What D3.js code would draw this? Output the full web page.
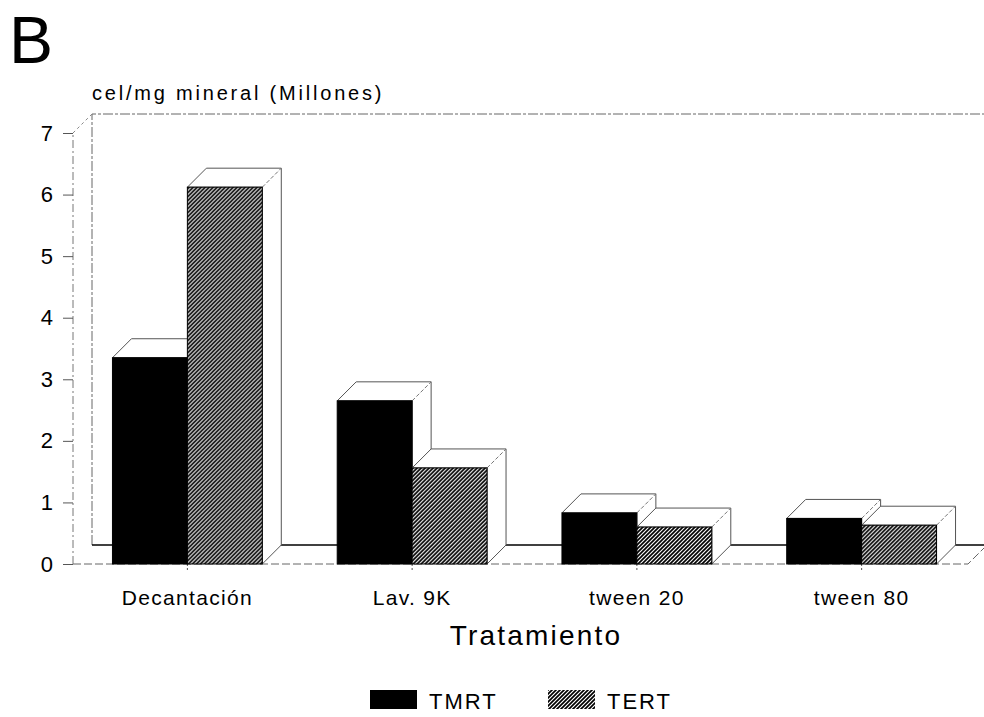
<!DOCTYPE html>
<html>
<head>
<meta charset="utf-8">
<script src="https://cdnjs.cloudflare.com/ajax/libs/d3/7.8.5/d3.min.js"></script>
<style>
  body { margin: 0; background: #fff; }
  svg { display: block; font-family: "Liberation Sans", Arial, sans-serif; }
</style>
</head>
<body>
<svg width="984" height="717"></svg>
<script>
var categories = ["Decantación", "Lav. 9K", "tween 20", "tween 80"];
var series = ["TMRT", "TERT"];
var tmrt = [3.35, 2.65, 0.83, 0.74];
var tert = [6.12, 1.56, 0.60, 0.63];
var yTicks = [0, 1, 2, 3, 4, 5, 6, 7];

var svg = d3.select("svg");

// depth offset of the 3d look
var dx = 19, dy = 19;

var y = d3.scaleLinear()
    .domain([0, 7])
    .range([564, 133]);

var x0 = d3.scaleBand()
    .domain(categories)
    .range([75, 974])
    .paddingInner(1 / 3)
    .paddingOuter(1 / 6);

var x1 = d3.scaleBand()
    .domain(series)
    .range([0, x0.bandwidth()]);

var defs = svg.append("defs");
var pat = defs.append("pattern")
    .attr("id", "hatch")
    .attr("patternUnits", "userSpaceOnUse")
    .attr("width", 4)
    .attr("height", 4);
pat.append("rect").attr("width", 4).attr("height", 4).attr("fill", "#fff");
pat.append("path")
    .attr("d", "M-1,1 l2,-2 M0,4 l4,-4 M3,5 l2,-2")
    .attr("stroke", "#000")
    .attr("stroke-width", 1.7);

var fills = { TMRT: "#000", TERT: "url(#hatch)" };

// title letter
svg.append("text")
    .attr("x", 9)
    .attr("y", 63)
    .attr("font-size", 66)
    .text("B");

svg.append("text")
    .attr("x", 92)
    .attr("y", 100)
    .attr("font-size", 20)
    .attr("letter-spacing", 2.8)
    .text("cel/mg mineral (Millones)");

// back wall and floor
var left = x0.range()[0] - 2, right = x0.range()[1] - 6;
var wall = svg.append("g").attr("fill", "none");
wall.append("path")
    .attr("d", "M" + (left + dx) + "," + (y(0) - dy) + "V" + (y(7) - dy) + "H984")
    .attr("stroke", "#666")
    .attr("stroke-dasharray", "10,2,3,2");
wall.append("line")
    .attr("x1", left + dx).attr("x2", 984)
    .attr("y1", y(0) - dy).attr("y2", y(0) - dy)
    .attr("stroke", "#000")
    .attr("stroke-width", 1.3);
wall.append("line")
    .attr("x1", left).attr("x2", left + dx)
    .attr("y1", y(7)).attr("y2", y(7) - dy)
    .attr("stroke", "#888")
    .attr("stroke-dasharray", "3,3");
wall.append("path")
    .attr("d", "M" + left + "," + y(0) + "H" + right + "l" + dx + "," + (-dy))
    .attr("stroke", "#666")
    .attr("stroke-dasharray", "8,3");
wall.append("line")
    .attr("x1", left).attr("x2", left)
    .attr("y1", y(0)).attr("y2", y(7))
    .attr("stroke", "#777")
    .attr("stroke-dasharray", "8,3,2,3");

// y axis
var yAxis = svg.append("g")
    .attr("transform", "translate(" + left + ",0)")
    .call(d3.axisLeft(y).tickValues(yTicks).tickFormat(d3.format("d")).tickSize(10).tickPadding(10));
yAxis.select(".domain").remove();
yAxis.selectAll(".tick line").attr("stroke", "#555");
yAxis.selectAll("text")
    .attr("font-size", 22)
    .attr("fill", "#000")
    .attr("font-family", "Liberation Sans, Arial, sans-serif");

// x axis
var xAxis = svg.append("g")
    .attr("transform", "translate(0," + y(0) + ")")
    .call(d3.axisBottom(x0).tickSize(8).tickPadding(18));
xAxis.select(".domain").remove();
xAxis.selectAll(".tick line").attr("stroke", "#555").attr("stroke-dasharray", "2,2");
xAxis.selectAll("text")
    .attr("font-size", 21)
    .attr("letter-spacing", 1.3)
    .attr("fill", "#000")
    .attr("font-family", "Liberation Sans, Arial, sans-serif");

svg.append("text")
    .attr("x", 536)
    .attr("y", 645)
    .attr("text-anchor", "middle")
    .attr("font-size", 28)
    .attr("letter-spacing", 2.2)
    .text("Tratamiento");

// bars
var rows = categories.map(function (c, i) {
    return { cat: c, vals: [{ key: "TMRT", v: tmrt[i] }, { key: "TERT", v: tert[i] }] };
});

var groups = svg.append("g").selectAll("g")
    .data(rows)
    .enter().append("g")
    .attr("transform", function (d) { return "translate(" + x0(d.cat) + ",0)"; });

var bars = groups.selectAll("g")
    .data(function (d) { return d.vals; })
    .enter().append("g");

bars.append("path")
    .attr("fill", "#fff")
    .attr("stroke", "#555")
    .attr("d", function (d) {
        var a = x1(d.key), b = a + x1.bandwidth(), t = y(d.v);
        return "M" + a + "," + t + "l" + dx + "," + (-dy) + "H" + (b + dx) +
            "V" + (y(0) - dy) + "L" + b + "," + y(0) + "V" + t + "Z";
    });
bars.append("path")
    .attr("fill", "none")
    .attr("stroke", "#777")
    .attr("stroke-dasharray", "4,2")
    .attr("d", function (d) {
        var b = x1(d.key) + x1.bandwidth(), t = y(d.v);
        return "M" + b + "," + t + "l" + dx + "," + (-dy);
    });
bars.append("rect")
    .attr("x", function (d) { return x1(d.key); })
    .attr("y", function (d) { return y(d.v); })
    .attr("width", x1.bandwidth())
    .attr("height", function (d) { return y(0) - y(d.v); })
    .attr("fill", function (d) { return fills[d.key]; })
    .attr("stroke", "#000")
    .attr("stroke-width", 1);

// legend
var legend = svg.append("g").selectAll("g")
    .data(series)
    .enter().append("g")
    .attr("transform", function (d, i) { return "translate(" + (370 + i * 178) + ",690)"; });
legend.append("rect")
    .attr("width", 47)
    .attr("height", 19)
    .attr("fill", function (d) { return fills[d]; });
legend.append("text")
    .attr("x", 59)
    .attr("y", 19)
    .attr("font-size", 22)
    .attr("letter-spacing", 2)
    .text(function (d) { return d; });
</script>
</body>
</html>
